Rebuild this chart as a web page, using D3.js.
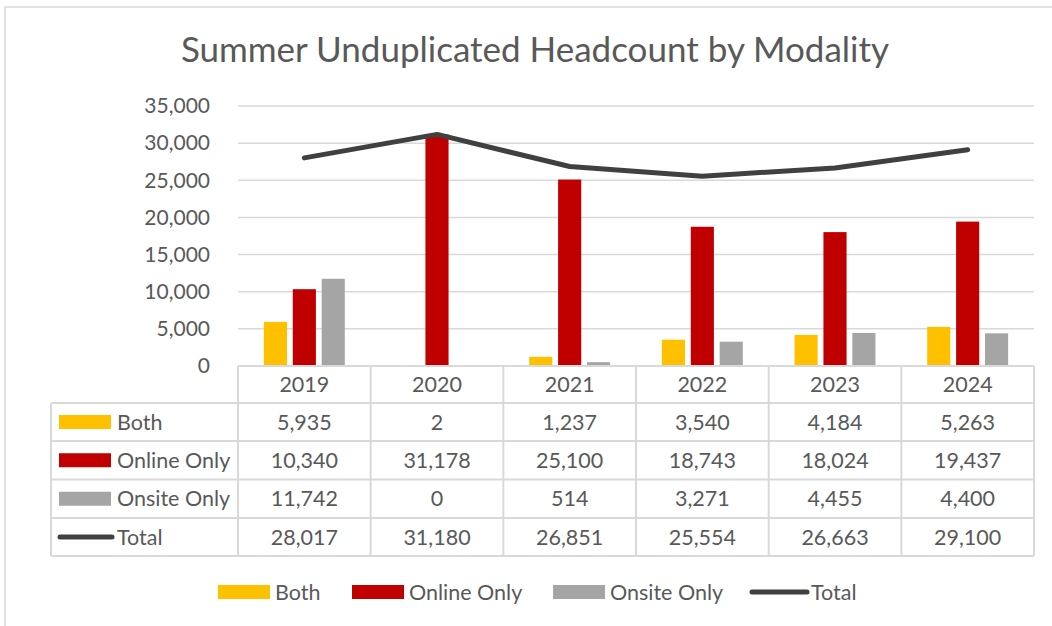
<!DOCTYPE html>
<html>
<head>
<meta charset="utf-8">
<script src="https://cdn.jsdelivr.net/npm/d3@7"></script>
<style>
  body { margin: 0; background: #fff; }
  svg { display: block; font-family: Lato, "Open Sans", sans-serif; }
</style>
</head>
<body>
<svg id="chart" width="1052" height="626"></svg>
<script>
var years = ['2019', '2020', '2021', '2022', '2023', '2024'];
var seriesNames = ['Both', 'Online Only', 'Onsite Only'];
var both = [5935, 2, 1237, 3540, 4184, 5263];
var onlineOnly = [10340, 31178, 25100, 18743, 18024, 19437];
var onsiteOnly = [11742, 0, 514, 3271, 4455, 4400];
var total = [28017, 31180, 26851, 25554, 26663, 29100];
var yTicks = [0, 5000, 10000, 15000, 20000, 25000, 30000, 35000];

var colors = ['#FFC000', '#C00000', '#A5A5A5'];
var lineColor = '#404040';
var textColor = '#595959';
var gridColor = '#d9d9d9';

var svg = d3.select('#chart');

// outer chart border
svg.append('rect')
    .attr('x', 5).attr('y', 7)
    .attr('width', 1060).attr('height', 640)
    .attr('fill', 'none')
    .attr('stroke', gridColor)
    .attr('stroke-width', 1.5)

svg.append('text')
    .attr('x', 535).attr('y', 62)
    .attr('text-anchor', 'middle')
    .attr('fill', textColor)
    .style('font-size', '35px')
    .text('Summer Unduplicated Headcount by Modality')

var plotLeft = 238, plotRight = 1034, plotTop = 106, plotBottom = 366;

var x0 = d3.scaleBand()
    .domain(years)
    .range([plotLeft, plotRight])
    .paddingInner(0.39)
    .paddingOuter(0.195)
var x1 = d3.scaleBand()
    .domain(seriesNames)
    .range([0, x0.bandwidth()])
    .paddingInner(0.2)
var xc = d3.scalePoint()
    .domain(years)
    .range([plotLeft, plotRight])
    .padding(0.5)
var y = d3.scaleLinear()
    .domain([0, 35000])
    .range([plotBottom, plotTop])

// gridlines
svg.append('g').selectAll('line')
    .data(yTicks.slice(1))
    .enter().append('line')
    .attr('x1', plotLeft).attr('x2', plotRight)
    .attr('y1', d => y(d)).attr('y2', d => y(d))
    .attr('stroke', gridColor)
    .attr('stroke-width', 1.5)

// y axis labels
var fmt = d3.format(',');
svg.append('g').selectAll('text')
    .data(yTicks)
    .enter().append('text')
    .attr('x', 210)
    .attr('y', d => y(d))
    .attr('dy', '0.35em')
    .attr('text-anchor', 'end')
    .attr('fill', textColor)
    .style('font-size', '21px')
    .text(d => fmt(d))

// bars
var seriesData = [both, onlineOnly, onsiteOnly];
var groups = svg.append('g').selectAll('g')
    .data(seriesData)
    .enter().append('g')
    .attr('fill', (d, i) => colors[i])
groups.each(function (vals, si) {
    d3.select(this).selectAll('rect')
        .data(vals)
        .enter().append('rect')
        .attr('x', (d, i) => x0(years[i]) + x1(seriesNames[si]))
        .attr('width', x1.bandwidth())
        .attr('y', d => y(d))
        .attr('height', d => y(0) - y(d))
})

// total line
var line = d3.line()
    .x((d, i) => xc(years[i]))
    .y(d => y(d))
svg.append('path')
    .datum(total)
    .attr('d', line)
    .attr('fill', 'none')
    .attr('stroke', lineColor)
    .attr('stroke-width', 5)
    .attr('stroke-linecap', 'round')
    .attr('stroke-linejoin', 'round')

// data table
var rowTops = [366, 403, 441, 479.5, 518, 556];
var tableLeft = 51;
var colW = (plotRight - plotLeft) / years.length;
var tbl = svg.append('g')
    .attr('stroke', gridColor)
    .attr('stroke-width', 2)

// horizontal lines
rowTops.forEach((ry, i) => {
    tbl.append('line')
        .attr('x1', i == 0 ? plotLeft : tableLeft).attr('x2', plotRight)
        .attr('y1', ry).attr('y2', ry)
})
// vertical lines
d3.range(years.length + 1).forEach(i => {
    tbl.append('line')
        .attr('x1', plotLeft + i * colW).attr('x2', plotLeft + i * colW)
        .attr('y1', rowTops[0]).attr('y2', rowTops[5])
})
tbl.append('line')
    .attr('x1', tableLeft).attr('x2', tableLeft)
    .attr('y1', rowTops[1]).attr('y2', rowTops[5])

// header years
svg.append('g').selectAll('text')
    .data(years)
    .enter().append('text')
    .attr('x', d => xc(d))
    .attr('y', (rowTops[0] + rowTops[1]) / 2)
    .attr('dy', '0.35em')
    .attr('text-anchor', 'middle')
    .attr('fill', textColor)
    .style('font-size', '21.5px')
    .text(d => d)

var tableRows = [both, onlineOnly, onsiteOnly, total];
var rowNames = ['Both', 'Online Only', 'Onsite Only', 'Total'];
tableRows.forEach((vals, r) => {
    var cy = (rowTops[r + 1] + rowTops[r + 2]) / 2;
    svg.append('g').selectAll('text')
        .data(vals)
        .enter().append('text')
        .attr('x', (d, i) => xc(years[i]))
        .attr('y', cy)
        .attr('dy', '0.35em')
        .attr('text-anchor', 'middle')
        .attr('fill', textColor)
        .style('font-size', '21.5px')
        .text(d => fmt(d))
    // legend key in table
    if (r < 3) {
        svg.append('rect')
            .attr('x', 59).attr('y', cy - 7)
            .attr('width', 52).attr('height', 14)
            .attr('fill', colors[r])
    } else {
        svg.append('line')
            .attr('x1', 60).attr('x2', 112)
            .attr('y1', cy).attr('y2', cy)
            .attr('stroke', lineColor)
            .attr('stroke-width', 5)
            .attr('stroke-linecap', 'round')
    }
    svg.append('text')
        .attr('x', 117).attr('y', cy)
        .attr('dy', '0.35em')
        .attr('fill', textColor)
        .style('font-size', '21.5px')
        .text(rowNames[r])
})

// bottom legend
var legendX = [218, 352, 553, 752];
var legend = svg.append('g')
legend.selectAll('g')
    .data(rowNames)
    .enter().append('g')
    .each(function (d, i) {
        var g = d3.select(this);
        if (i < 3) {
            g.append('rect')
                .attr('x', legendX[i]).attr('y', 585)
                .attr('width', 52).attr('height', 14)
                .attr('fill', colors[i])
        } else {
            g.append('line')
                .attr('x1', legendX[i]).attr('x2', legendX[i] + 55)
                .attr('y1', 592).attr('y2', 592)
                .attr('stroke', lineColor)
                .attr('stroke-width', 5)
                .attr('stroke-linecap', 'round')
        }
        g.append('text')
            .attr('x', legendX[i] + (i < 3 ? 57 : 59))
            .attr('y', 592)
            .attr('dy', '0.35em')
            .attr('fill', textColor)
            .style('font-size', '21.5px')
            .text(d)
    })
</script>
</body>
</html>
